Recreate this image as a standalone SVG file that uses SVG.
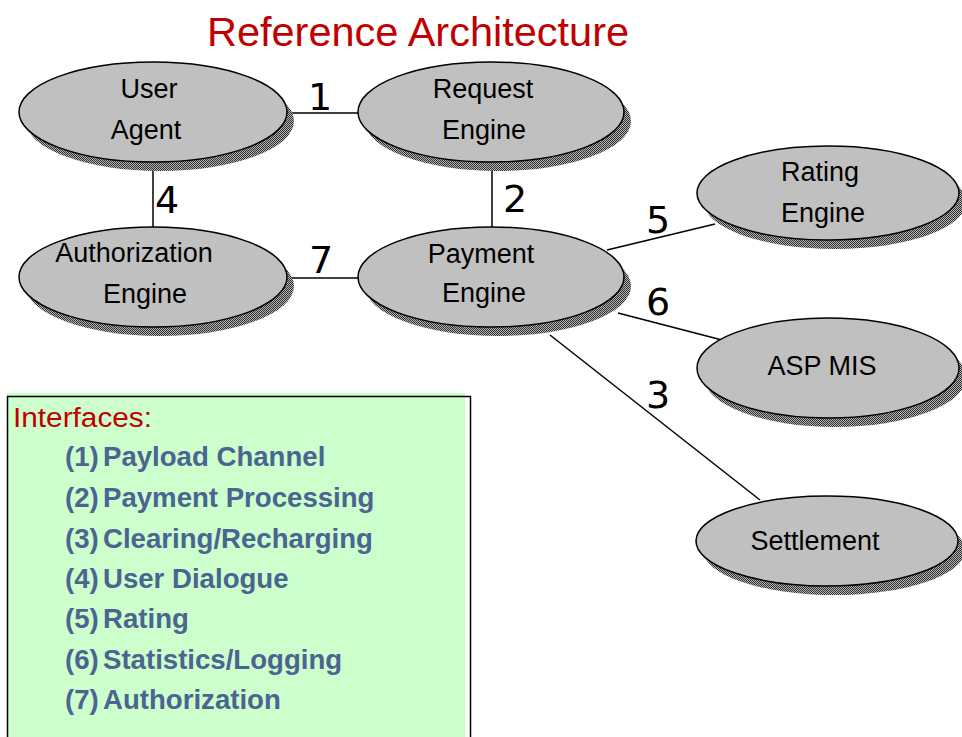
<svg xmlns="http://www.w3.org/2000/svg" width="962" height="737" viewBox="0 0 962 737">
<defs>
<pattern id="dots" width="2" height="2" patternUnits="userSpaceOnUse">
<rect width="2" height="2" fill="#b4b4b4"/>
<rect width="1" height="1" fill="#303030"/>
<rect x="1" y="1" width="1" height="1" fill="#303030"/>
</pattern>
<style>
.shadow{fill:url(#dots);stroke:none}
.node{fill:#c0c0c0;stroke:#000;stroke-width:1.5}
.nt{font-family:"Liberation Sans",Arial,sans-serif;font-size:27px;fill:#000;text-anchor:middle}
.num{font-family:"DejaVu Sans",Verdana,sans-serif;font-size:38px;fill:#000;text-anchor:middle}
.conn line{stroke:#000;stroke-width:1.5}
.leg{font-family:"Liberation Sans",Arial,sans-serif;font-size:27.6px;font-weight:bold;fill:#4b6491}
</style>
</defs>
<rect width="962" height="737" fill="#fff"/>
<text x="418" y="46" font-family="Liberation Sans,Arial,sans-serif" font-size="41.5" fill="#c00000" text-anchor="middle">Reference Architecture</text>

<g id="connectors" class="conn">
<line x1="287" y1="113" x2="358" y2="113"/>
<line x1="492" y1="162" x2="492" y2="227"/>
<line x1="550" y1="335" x2="760" y2="500"/>
<line x1="153" y1="162" x2="153" y2="227"/>
<line x1="607" y1="250" x2="715" y2="224"/>
<line x1="618" y1="313" x2="722" y2="340"/>
<line x1="287" y1="278" x2="358" y2="278"/>
</g>
<g id="labels">
<text class="num" x="320" y="110">1</text>
<text class="num" x="515" y="212">2</text>
<text class="num" x="658" y="408">3</text>
<text class="num" x="167" y="213">4</text>
<text class="num" x="658" y="233">5</text>
<text class="num" x="658" y="315">6</text>
<text class="num" x="321" y="273">7</text>
</g>

<g id="user-agent">
<ellipse class="shadow" cx="160" cy="121" rx="134" ry="50"/>
<ellipse class="node" cx="153" cy="112" rx="134" ry="50"/>
<text class="nt" x="149" y="98">User</text>
<text class="nt" x="146" y="139">Agent</text>
</g>
<g id="request-engine">
<ellipse class="shadow" cx="498" cy="121" rx="133" ry="50"/>
<ellipse class="node" cx="491" cy="112" rx="133" ry="50"/>
<text class="nt" x="483" y="98">Request</text>
<text class="nt" x="484" y="139">Engine</text>
</g>
<g id="authorization-engine">
<ellipse class="shadow" cx="160" cy="286" rx="134" ry="50"/>
<ellipse class="node" cx="153" cy="277" rx="134" ry="50"/>
<text class="nt" x="134" y="262">Authorization</text>
<text class="nt" x="145" y="303">Engine</text>
</g>
<g id="payment-engine">
<ellipse class="shadow" cx="498" cy="286" rx="133" ry="50"/>
<ellipse class="node" cx="491" cy="277" rx="133" ry="50"/>
<text class="nt" x="481" y="263">Payment</text>
<text class="nt" x="484" y="302">Engine</text>
</g>
<g id="rating-engine">
<ellipse class="shadow" cx="835" cy="202" rx="131" ry="47"/>
<ellipse class="node" cx="828" cy="193" rx="131" ry="47"/>
<text class="nt" x="820" y="181">Rating</text>
<text class="nt" x="823" y="222">Engine</text>
</g>
<g id="asp-mis">
<ellipse class="shadow" cx="835" cy="377" rx="131" ry="50"/>
<ellipse class="node" cx="828" cy="368" rx="131" ry="50"/>
<text class="nt" x="822" y="375">ASP MIS</text>
</g>
<g id="settlement">
<ellipse class="shadow" cx="834" cy="550" rx="131" ry="45"/>
<ellipse class="node" cx="827" cy="541" rx="131" ry="45"/>
<text class="nt" x="815" y="550">Settlement</text>
</g>

<g id="legend">
<rect x="7" y="393" width="458" height="344" fill="#ccffcc"/>
<rect x="7.5" y="396.5" width="463" height="345" fill="none" stroke="#000" stroke-width="1.5"/>
<text x="13" y="427" font-family="Liberation Sans,Arial,sans-serif" font-size="27" fill="#c00000" textLength="139" lengthAdjust="spacingAndGlyphs">Interfaces:</text>
<text class="leg" x="65" y="466">(1)</text><text class="leg" x="103" y="466">Payload Channel</text>
<text class="leg" x="65" y="507">(2)</text><text class="leg" x="103" y="507">Payment Processing</text>
<text class="leg" x="65" y="548">(3)</text><text class="leg" x="103" y="548">Clearing/Recharging</text>
<text class="leg" x="65" y="588">(4)</text><text class="leg" x="103" y="588">User Dialogue</text>
<text class="leg" x="65" y="628">(5)</text><text class="leg" x="103" y="628">Rating</text>
<text class="leg" x="65" y="669">(6)</text><text class="leg" x="103" y="669">Statistics/Logging</text>
<text class="leg" x="65" y="709">(7)</text><text class="leg" x="103" y="709">Authorization</text>
</g>
</svg>
